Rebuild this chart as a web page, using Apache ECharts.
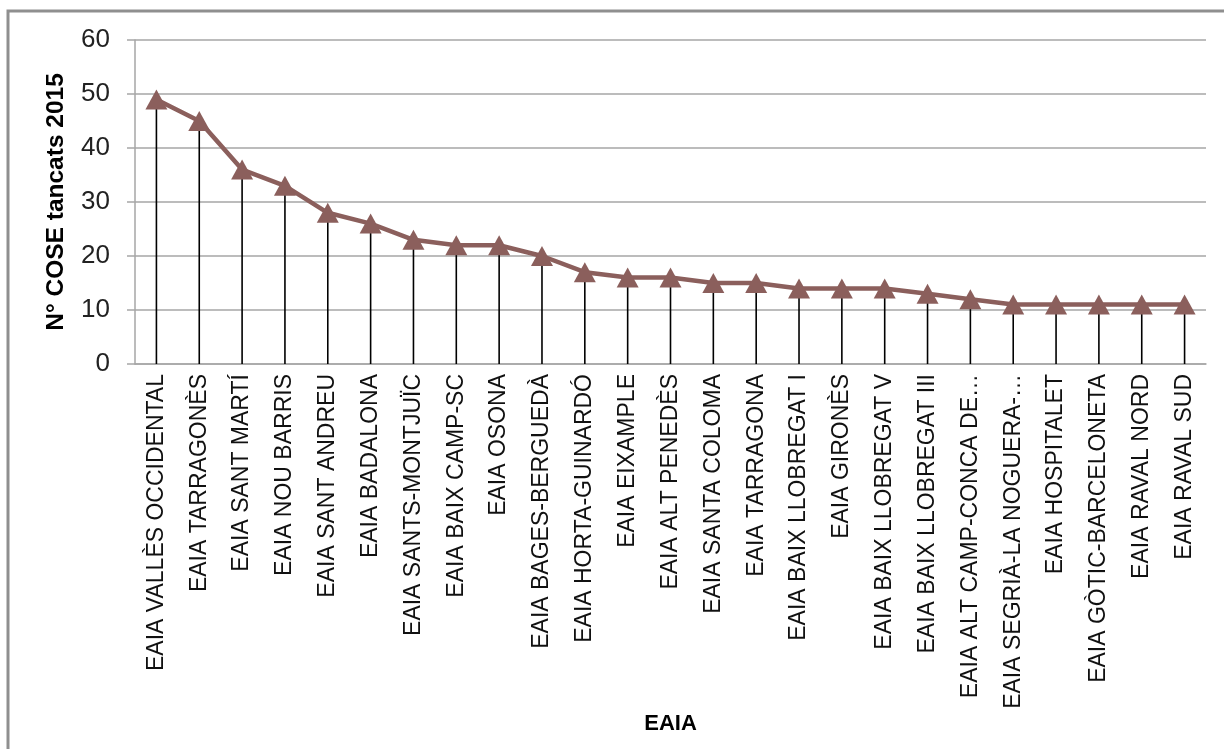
<!DOCTYPE html>
<html>
<head>
<meta charset="utf-8">
<script src="https://cdn.jsdelivr.net/npm/echarts@6/dist/echarts.min.js"></script>
<style>
html,body{margin:0;padding:0;background:#fff;}
#chart{width:1224px;height:749px;}
</style>
</head>
<body>
<div id="chart"></div>
<script>
const categories = [
  "EAIA VALLÈS OCCIDENTAL","EAIA TARRAGONÈS","EAIA SANT MARTÍ","EAIA NOU BARRIS",
  "EAIA SANT ANDREU","EAIA BADALONA","EAIA SANTS-MONTJUÏC","EAIA BAIX CAMP-SC",
  "EAIA OSONA","EAIA BAGES-BERGUEDÀ","EAIA HORTA-GUINARDÓ","EAIA EIXAMPLE",
  "EAIA ALT PENEDÈS","EAIA SANTA COLOMA","EAIA TARRAGONA","EAIA BAIX LLOBREGAT I",
  "EAIA GIRONÈS","EAIA BAIX LLOBREGAT V","EAIA BAIX LLOBREGAT III","EAIA ALT CAMP-CONCA DE…",
  "EAIA SEGRIÀ-LA NOGUERA-…","EAIA HOSPITALET","EAIA GÒTIC-BARCELONETA","EAIA RAVAL NORD",
  "EAIA RAVAL SUD"
];
const values = [49,45,36,33,28,26,23,22,22,20,17,16,16,15,15,14,14,14,13,12,11,11,11,11,11];
const yTicks = { min: 0, max: 60, interval: 10 };
const yTitle = "N° COSE tancats 2015";
const xTitle = "EAIA";

const chart = echarts.init(document.getElementById('chart'), null, {renderer:'canvas'});
chart.setOption({
  backgroundColor: '#fff',
  animation: false,
  graphic: [{
    type: 'rect', silent: true, z: -10,
    shape: { x: 8, y: 11, width: 1300, height: 900 },
    style: { fill: 'none', stroke: '#8f8f8f', lineWidth: 3 }
  }],
  grid: { left: 135, top: 40, right: 18, bottom: 385 },
  xAxis: {
    type: 'category',
    data: categories,
    boundaryGap: true,
    name: xTitle,
    nameLocation: 'middle',
    nameGap: 331,
    nameTextStyle: { fontFamily: 'Liberation Sans', fontSize: 22, fontWeight: 'bold', color: '#000' },
    axisLine: { show: true, lineStyle: { color: '#a6a6a6', width: 1.5 } },
    axisTick: { show: false },
    axisLabel: {
      rotate: 90, interval: 0, margin: 10,
      fontFamily: 'Liberation Sans', fontSize: 23, color: '#111'
    },
    splitLine: { show: false }
  },
  yAxis: {
    type: 'value',
    min: yTicks.min, max: yTicks.max, interval: yTicks.interval,
    name: yTitle,
    nameLocation: 'middle',
    nameGap: 66,
    nameTextStyle: { fontFamily: 'Liberation Sans', fontSize: 24.5, fontWeight: 'bold', color: '#000' },
    axisLine: { show: true, lineStyle: { color: '#a6a6a6', width: 1.5 } },
    axisTick: { show: true, length: 8, lineStyle: { color: '#a6a6a6', width: 1.5 } },
    axisLabel: { fontFamily: 'Liberation Sans', fontSize: 26, color: '#222', margin: 25 },
    splitLine: { show: true, lineStyle: { color: '#a6a6a6', width: 1.5 } }
  },
  series: [
    {
      type: 'bar',
      data: values,
      barWidth: 1.6,
      itemStyle: { color: '#000' },
      z: 2,
      silent: true
    },
    {
      type: 'line',
      data: values,
      symbol: 'triangle',
      symbolSize: [22, 20],
      lineStyle: { color: '#8b5f5c', width: 4.5 },
      itemStyle: { color: '#8b5f5c', borderWidth: 0 },
      z: 3,
      silent: true
    }
  ]
});
</script>
</body>
</html>
